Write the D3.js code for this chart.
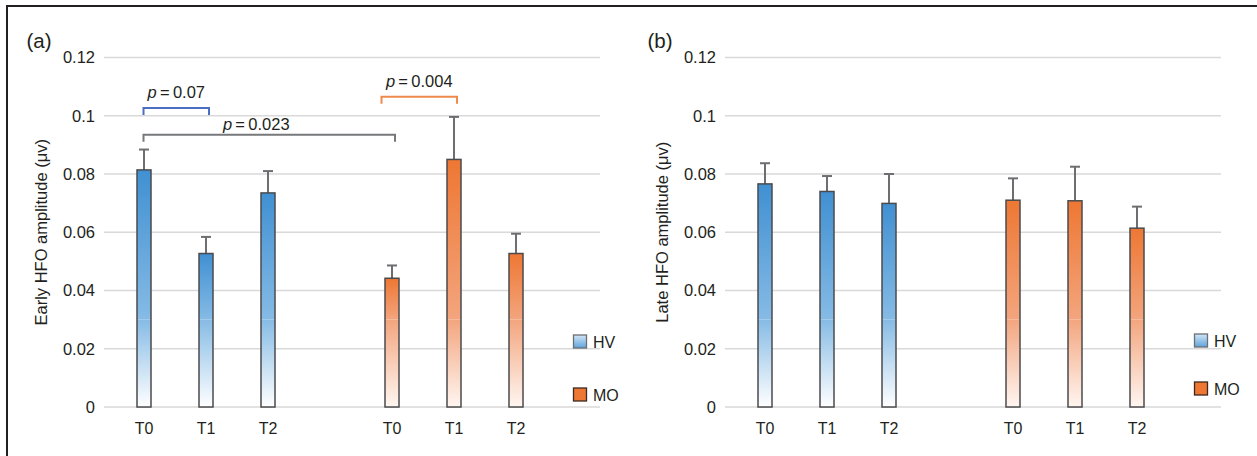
<!DOCTYPE html>
<html><head><meta charset="utf-8">
<script src="https://cdn.jsdelivr.net/npm/d3@7"></script>
<style>
body{margin:0;background:#fff}
svg{display:block}
text{font-family:"Liberation Sans",Arial,Helvetica,sans-serif;fill:#231f20}
</style>
</head><body>
<svg id="c" width="1257" height="456"></svg>
<script>
// ---------- data ----------
const categories = ["T0", "T1", "T2"];
const groups = ["HV", "MO"];
const yTicks = [0, 0.02, 0.04, 0.06, 0.08, 0.1, 0.12];
const tickLabels = ["0", "0.02", "0.04", "0.06", "0.08", "0.1", "0.12"];

const earlyHV    = [0.0814, 0.0527, 0.0735];
const earlyHVErr = [0.0070, 0.0057, 0.0075];
const earlyMO    = [0.0442, 0.0850, 0.0527];
const earlyMOErr = [0.0044, 0.0146, 0.0068];

const lateHV     = [0.0766, 0.0740, 0.0699];
const lateHVErr  = [0.0071, 0.0053, 0.0101];
const lateMO     = [0.0710, 0.0708, 0.0614];
const lateMOErr  = [0.0075, 0.0117, 0.0074];

const bracketFrom   = [["HV", "T0"], ["HV", "T0"], ["MO", "T0"]];
const bracketTo     = [["HV", "T1"], ["MO", "T0"], ["MO", "T1"]];
const bracketPValue = ["0.07", "0.023", "0.004"];
const bracketLevel  = [0.1027, 0.0935, 0.1065];
const bracketColor  = ["#4a6fc0", "#77787b", "#f08a4b"];

// ---------- drawing ----------
const svg = d3.select("#c");
const defs = svg.append("defs");

const palette = {
  HV: {top: "#4090d2", mid: "#86bbe5", light: "#ffffff", stroke: "#4b4b4d"},
  MO: {top: "#ee7733", mid: "#f3a57e", light: "#fff6f1", stroke: "#4b4b4d"}
};
groups.forEach(g => {
  const gu = defs.append("linearGradient").attr("id", "up-" + g)
    .attr("x1", 0).attr("y1", 0).attr("x2", 0).attr("y2", 1);
  gu.append("stop").attr("offset", "0%").attr("stop-color", palette[g].top);
  gu.append("stop").attr("offset", "100%").attr("stop-color", palette[g].mid);
  const gl = defs.append("linearGradient").attr("id", "low-" + g)
    .attr("x1", 0).attr("y1", 0).attr("x2", 0).attr("y2", 1);
  gl.append("stop").attr("offset", "0%").attr("stop-color", palette[g].mid);
  gl.append("stop").attr("offset", "100%").attr("stop-color", palette[g].light);
  const lg = defs.append("linearGradient").attr("id", "leg-" + g)
    .attr("x1", 0).attr("y1", 0).attr("x2", 0).attr("y2", 1);
  lg.append("stop").attr("offset", "0%").attr("stop-color", g === "HV" ? "#d3e6f6" : "#ee7733");
  lg.append("stop").attr("offset", "100%").attr("stop-color", g === "HV" ? "#5ea3db" : "#ee7733");
});

// frame
svg.append("line").attr("x1", 7).attr("x2", 7).attr("y1", 6).attr("y2", 456)
  .attr("stroke", "#231f20").attr("stroke-width", 2);
svg.append("line").attr("x1", 6).attr("x2", 1257).attr("y1", 6).attr("y2", 6)
  .attr("stroke", "#231f20").attr("stroke-width", 2);

const slots = ["HV-T0", "HV-T1", "HV-T2", "gap", "MO-T0", "MO-T1", "MO-T2"];
const x = d3.scaleBand().domain(slots).range([113, 547]).padding(0);
const cx = (g, c) => x(g + "-" + c) + x.bandwidth() / 2;
const y = d3.scaleLinear().domain([0, 0.12]).range([407, 57.5]);
const barW = 14;
const lowSplit = 0.03;

function drawPanel(opts) {
  const p = svg.append("g").attr("transform", `translate(${opts.dx},0)`);

  // panel letter
  p.append("text").attr("x", 26.5).attr("y", 48).attr("font-size", 20.5).text(opts.letter);

  // gridlines
  p.append("g").selectAll("line").data(yTicks).join("line")
    .attr("x1", 104).attr("x2", 600)
    .attr("y1", d => y(d)).attr("y2", d => y(d))
    .attr("stroke", "#d9d9d9").attr("stroke-width", 1.3);

  // y tick labels via axis
  const ax = d3.axisLeft(y).tickValues(yTicks)
    .tickFormat((d, i) => tickLabels[i]).tickSize(0).tickPadding(0);
  const axg = p.append("g").attr("transform", "translate(95,0)").call(ax);
  axg.select(".domain").remove();
  axg.selectAll("text").attr("font-size", 16.5).attr("fill", "#231f20")
    .style("font-family", '"Liberation Sans",Arial,sans-serif');

  // y title
  p.append("text")
    .attr("transform", `translate(47,${(y(0) + y(0.12)) / 2}) rotate(-90)`)
    .attr("text-anchor", "middle").attr("font-size", 16.5)
    .text(opts.title);

  // bars
  groups.forEach(g => {
    const vals = opts.values[g], errs = opts.errors[g];
    categories.forEach((c, i) => {
      const xc = cx(g, c), v = vals[i], e = errs[i];
      // error bar (upper only)
      p.append("line").attr("x1", xc).attr("x2", xc)
        .attr("y1", y(v)).attr("y2", y(v + e))
        .attr("stroke", "#6d6e71").attr("stroke-width", 2);
      p.append("line").attr("x1", xc - 5).attr("x2", xc + 5)
        .attr("y1", y(v + e)).attr("y2", y(v + e))
        .attr("stroke", "#6d6e71").attr("stroke-width", 2);
      // upper part
      p.append("rect").attr("x", xc - barW / 2).attr("width", barW)
        .attr("y", y(v)).attr("height", y(lowSplit) - y(v))
        .attr("fill", `url(#up-${g})`);
      // lower fading part
      p.append("rect").attr("x", xc - barW / 2).attr("width", barW)
        .attr("y", y(lowSplit)).attr("height", y(0) - y(lowSplit))
        .attr("fill", `url(#low-${g})`);
      // outline
      p.append("rect").attr("x", xc - barW / 2).attr("width", barW)
        .attr("y", y(v)).attr("height", y(0) - y(v))
        .attr("fill", "none").attr("stroke", palette[g].stroke).attr("stroke-width", 1.5);
    });
  });

  // x labels
  groups.forEach(g => categories.forEach(c => {
    p.append("text").attr("x", cx(g, c)).attr("y", 434)
      .attr("text-anchor", "middle").attr("font-size", 16).text(c);
  }));

  // legend
  groups.forEach((g, i) => {
    const ly = opts.legendY[i];
    p.append("rect").attr("x", 573.5).attr("y", ly).attr("width", 13).attr("height", 13)
      .attr("fill", `url(#leg-${g})`).attr("stroke", g === "HV" ? "#6d6e71" : "#3a2a20").attr("stroke-width", 1.3);
    p.append("text").attr("x", 593).attr("y", ly + 12.5).attr("font-size", 16).text(g);
  });

  // significance brackets
  if (opts.brackets) {
    const labelShift = [0, -13, 0];
    bracketFrom.forEach((f, i) => {
      const x1 = cx(f[0], f[1]) - 0.5 - (i === 2 ? 10 : 0), x2 = cx(bracketTo[i][0], bracketTo[i][1]) + 3;
      const yy = y(bracketLevel[i]), leg = 7;
      p.append("path")
        .attr("d", `M${x1},${yy + leg}V${yy}H${x2}V${yy + leg}`)
        .attr("fill", "none").attr("stroke", bracketColor[i]).attr("stroke-width", 2);
      const t = p.append("text").attr("x", (x1 + x2) / 2 + labelShift[i]).attr("y", yy - (i === 1 ? 5 : 10))
        .attr("text-anchor", "middle").attr("font-size", 16.5);
      t.append("tspan").attr("font-style", "italic").text("p");
      t.append("tspan").text("\u2009=\u20090." + bracketPValue[i].slice(2));
    });
  }
}

drawPanel({
  dx: 0, letter: "(a)", title: "Early HFO amplitude (\u03bcv)",
  values: {HV: earlyHV, MO: earlyMO}, errors: {HV: earlyHVErr, MO: earlyMOErr},
  legendY: [335, 388], brackets: true
});
drawPanel({
  dx: 621, letter: "(b)", title: "Late HFO amplitude (\u03bcv)",
  values: {HV: lateHV, MO: lateMO}, errors: {HV: lateHVErr, MO: lateMOErr},
  legendY: [334, 382], brackets: false
});
</script>
</body></html>
